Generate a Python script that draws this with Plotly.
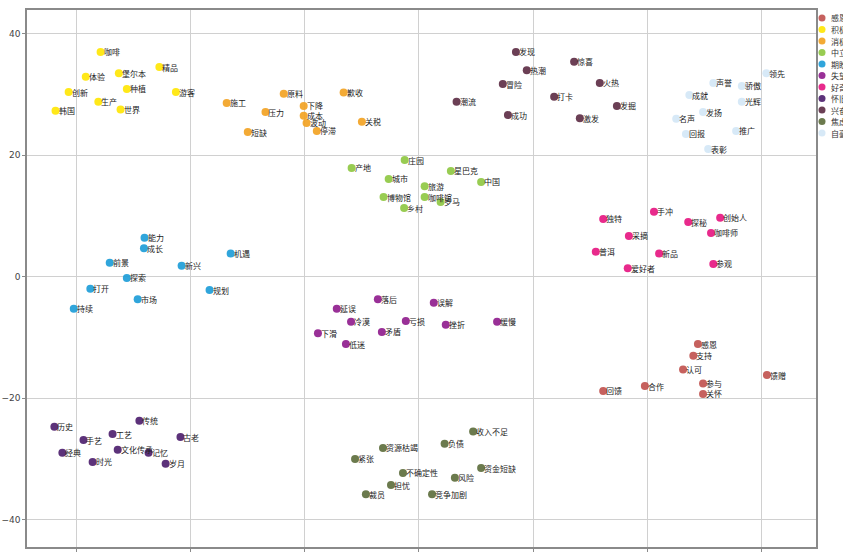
import plotly.graph_objects as go

# Emotion categories and their colours
categories = ["感恩", "积极", "消极", "中立", "期盼", "失望", "好奇", "怀旧", "兴奋", "焦虑", "自豪"]
colors = ["#c0504d", "#ffe600", "#f2a11f", "#8dc63f", "#1a9bd7", "#8e1a8c",
          "#e5137f", "#4a1c6b", "#5b2a42", "#5b6b3a", "#d3e7f6"]

# 感恩
words_ganen = ["感恩", "支持", "认可", "馈赠", "参与", "合作", "回馈", "关怀"]
x_ganen = [48.9, 48.1, 46.3, 61.0, 49.8, 39.6, 32.3, 49.8]
y_ganen = [-11.1, -13.0, -15.3, -16.2, -17.6, -18.0, -18.8, -19.3]

# 积极
words_jiji = ["咖啡", "精品", "堡尔本", "体验", "种植", "创新", "游客", "生产", "世界", "韩国"]
x_jiji = [-55.8, -45.5, -52.6, -58.4, -51.2, -61.4, -42.6, -56.2, -52.3, -63.7]
y_jiji = [37.0, 34.5, 33.5, 32.9, 30.9, 30.4, 30.4, 28.8, 27.5, 27.3]

# 消极
words_xiaoji = ["施工", "原料", "歉收", "下降", "压力", "成本", "波动", "关税", "停滞", "短缺"]
x_xiaoji = [-33.7, -23.7, -13.2, -20.2, -26.9, -20.2, -19.7, -10.0, -17.9, -30.0]
y_xiaoji = [28.6, 30.1, 30.3, 28.1, 27.1, 26.5, 25.3, 25.5, 24.0, 23.8]

# 中立
words_zhongli = ["庄园", "产地", "星巴克", "城市", "中国", "旅游", "博物馆", "咖啡馆", "乡村", "罗马"]
x_zhongli = [-2.5, -11.8, 5.6, -5.3, 10.9, 1.0, -6.2, 1.0, -2.6, 3.8]
y_zhongli = [19.2, 17.9, 17.4, 16.1, 15.6, 14.9, 13.1, 13.1, 11.3, 12.3]

# 期盼
words_qipan = ["能力", "成长", "前景", "新兴", "机遇", "探索", "打开", "市场", "规划", "持续"]
x_qipan = [-48.1, -48.2, -54.2, -41.6, -33.0, -51.2, -57.6, -49.3, -36.7, -60.5]
y_qipan = [6.4, 4.7, 2.3, 1.8, 3.8, -0.2, -2.0, -3.7, -2.2, -5.3]

# 失望
words_shiwang = ["落后", "延误", "冷漠", "亏损", "矛盾", "下滑", "低迷", "误解", "挫折", "缓慢"]
x_shiwang = [-7.2, -14.4, -11.9, -2.3, -6.5, -17.7, -12.8, 2.6, 4.7, 13.7]
y_shiwang = [-3.7, -5.3, -7.4, -7.3, -9.1, -9.3, -11.1, -4.3, -7.9, -7.4]

# 好奇
words_haoqi = ["手冲", "独特", "创始人", "探秘", "采摘", "咖啡师", "普洱", "新品", "参观", "爱好者"]
x_haoqi = [41.2, 32.3, 52.8, 47.2, 36.8, 51.2, 31.0, 42.1, 51.6, 36.6]
y_haoqi = [10.7, 9.5, 9.7, 9.0, 6.7, 7.2, 4.1, 3.8, 2.1, 1.4]

# 怀旧
words_huaijiu = ["传统", "历史", "工艺", "古老", "手艺", "文化传承", "记忆", "经典", "时光", "岁月"]
x_huaijiu = [-49.0, -63.9, -53.7, -41.8, -58.8, -52.8, -47.4, -62.5, -57.2, -44.4]
y_huaijiu = [-23.7, -24.7, -25.9, -26.4, -26.9, -28.5, -29.0, -29.0, -30.5, -30.8]

# 兴奋
words_xingfen = ["发现", "惊喜", "热潮", "火热", "冒险", "打卡", "潮流", "发掘", "成功", "激发"]
x_xingfen = [17.0, 27.2, 18.9, 31.7, 14.7, 23.7, 6.6, 34.7, 15.6, 28.2]
y_xingfen = [37.0, 35.4, 34.0, 31.9, 31.7, 29.6, 28.8, 28.1, 26.6, 26.1]

# 焦虑
words_jiaolv = ["收入不足", "负债", "资源枯竭", "紧张", "资金短缺", "不确定性", "风险", "担忧", "裁员", "竞争加剧"]
x_jiaolv = [9.5, 4.5, -6.3, -11.2, 10.9, -2.8, 6.3, -4.9, -9.3, 2.3]
y_jiaolv = [-25.5, -27.5, -28.2, -30.0, -31.5, -32.3, -33.1, -34.3, -35.8, -35.8]

# 自豪
words_zihao = ["领先", "声誉", "骄傲", "成就", "光辉", "发扬", "名声", "推广", "回报", "表彰"]
x_zihao = [60.9, 51.6, 56.6, 47.4, 56.6, 49.8, 45.1, 55.6, 46.8, 50.7]
y_zihao = [33.5, 31.9, 31.4, 29.9, 28.8, 27.1, 26.0, 24.0, 23.5, 21.0]

groups = [
    (words_ganen, x_ganen, y_ganen),
    (words_jiji, x_jiji, y_jiji),
    (words_xiaoji, x_xiaoji, y_xiaoji),
    (words_zhongli, x_zhongli, y_zhongli),
    (words_qipan, x_qipan, y_qipan),
    (words_shiwang, x_shiwang, y_shiwang),
    (words_haoqi, x_haoqi, y_haoqi),
    (words_huaijiu, x_huaijiu, y_huaijiu),
    (words_xingfen, x_xingfen, y_xingfen),
    (words_jiaolv, x_jiaolv, y_jiaolv),
    (words_zihao, x_zihao, y_zihao),
]

FONT = "Noto Sans CJK SC"

fig = go.Figure()
annotations = []
for name, color, (words, xs, ys) in zip(categories, colors, groups):
    fig.add_trace(go.Scatter(
        x=xs, y=ys, name=name, mode="markers",
        marker=dict(size=8, color=color, opacity=0.9, line=dict(width=0)),
        showlegend=False,
    ))
    # word labels sit just right of each point, slightly over the dot
    for w, xv, yv in zip(words, xs, ys):
        annotations.append(dict(
            x=xv, y=yv, text=w, showarrow=False, xanchor="left", yanchor="middle",
            xshift=1, font=dict(family=FONT, size=8, color="#222222"),
        ))

# Legend drawn beside the plot area: coloured dots with category names
L, R, T, B = 27, 27, 10, 6
W, H = 843, 553
pw, ph = W - L - R, H - T - B
shapes = []
for i, (name, color) in enumerate(zip(categories, colors)):
    py = 18 + i * 11.5
    yp = 1 - (py - T) / ph
    xp = (822 - L) / pw
    shapes.append(dict(type="circle", xref="paper", yref="paper",
                       xsizemode="pixel", ysizemode="pixel",
                       xanchor=xp, yanchor=yp, x0=-3.5, x1=3.5, y0=-3.5, y1=3.5,
                       fillcolor=color, line=dict(width=0), opacity=0.9))
    annotations.append(dict(x=(829 - L) / pw, y=yp, xref="paper", yref="paper",
                            text=name, showarrow=False, xanchor="left", yanchor="middle",
                            font=dict(family=FONT, size=8, color="#333333")))

axis_common = dict(
    showgrid=True, gridcolor="#d0d0d0", gridwidth=1, automargin=False,
    zeroline=False, showline=True, linecolor="#8a8a8a", linewidth=1.5, mirror=True,
    ticks="outside", ticklen=3, tickcolor="#8a8a8a", dtick=20,
    tickfont=dict(family="DejaVu Sans", size=9, color="#444444"),
)

fig.update_layout(
    width=W, height=H,
    margin=dict(l=L, r=R, t=T, b=B, autoexpand=False),
    paper_bgcolor="white", plot_bgcolor="white",
    xaxis=dict(range=[-68.7, 69.6], **axis_common),
    yaxis=dict(range=[-44.5, 43.9], **axis_common),
    shapes=shapes, annotations=annotations,
    showlegend=False,
)

fig.write_html("out.html")
